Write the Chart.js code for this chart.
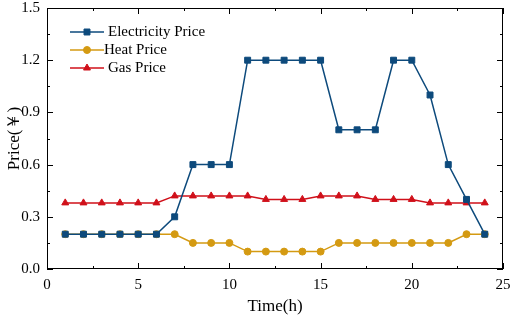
<!DOCTYPE html>
<html>
<head>
<meta charset="utf-8">
<script src="https://cdn.jsdelivr.net/npm/chart.js@4/dist/chart.umd.min.js"></script>
<style>
  html, body { margin: 0; padding: 0; background: #fff; }
  #wrap { width: 512px; height: 321px; }
</style>
</head>
<body>
<div id="wrap"><canvas id="priceChart"></canvas></div>
<script>
const hours = [1, 2, 3, 4, 5, 6, 7, 8, 9, 10, 11, 12, 13, 14, 15, 16, 17, 18, 19, 20, 21, 22, 23, 24];
const electricityPrice = [0.2, 0.2, 0.2, 0.2, 0.2, 0.2, 0.3, 0.6, 0.6, 0.6, 1.2, 1.2, 1.2, 1.2, 1.2, 0.8, 0.8, 0.8, 1.2, 1.2, 1.0, 0.6, 0.4, 0.2];
const heatPrice = [0.2, 0.2, 0.2, 0.2, 0.2, 0.2, 0.2, 0.15, 0.15, 0.15, 0.1, 0.1, 0.1, 0.1, 0.1, 0.15, 0.15, 0.15, 0.15, 0.15, 0.15, 0.15, 0.2, 0.2];
const gasPrice = [0.38, 0.38, 0.38, 0.38, 0.38, 0.38, 0.42, 0.42, 0.42, 0.42, 0.42, 0.40, 0.40, 0.40, 0.42, 0.42, 0.42, 0.40, 0.40, 0.40, 0.38, 0.38, 0.38, 0.38];
const xTicks = [0, 5, 10, 15, 20, 25];
const yTicks = [0.0, 0.3, 0.6, 0.9, 1.2, 1.5];

const FONT = '"Liberation Serif", "Times New Roman", serif';

function toPoints(values) {
    return values.map((v, i) => ({ x: hours[i], y: v }));
}

// inward major/minor ticks on all four sides, plus the frame
const frameTicks = {
    id: 'frameTicks',
    afterDraw(chart) {
        const { ctx, chartArea: a, scales } = chart;
        const xs = scales.x, ys = scales.y;
        ctx.save();
        ctx.strokeStyle = '#000';
        ctx.lineWidth = 1;
        ctx.strokeRect(a.left + 0.5, a.top + 0.5, a.right - a.left - 1, a.bottom - a.top - 1);
        ctx.beginPath();
        for (let v = 0; v <= 25; v += 2.5) {
            const px = Math.round(xs.getPixelForValue(v)) + 0.5;
            const len = (v % 5 === 0) ? 6 : 3;
            ctx.moveTo(px, a.bottom); ctx.lineTo(px, a.bottom - len);
            ctx.moveTo(px, a.top); ctx.lineTo(px, a.top + len);
        }
        for (let v = 0; v <= 1.5001; v += 0.15) {
            const py = Math.round(ys.getPixelForValue(v)) + 0.5;
            const major = Math.abs(Math.round(v / 0.3) * 0.3 - v) < 1e-6;
            const len = major ? 6 : 3;
            ctx.moveTo(a.left, py); ctx.lineTo(a.left + len, py);
            ctx.moveTo(a.right, py); ctx.lineTo(a.right - len, py);
        }
        ctx.stroke();
        ctx.restore();
    }
};

// legend with line + marker, inside the plot
const lineLegend = {
    id: 'lineLegend',
    afterDatasetsDraw(chart) {
        const { ctx } = chart;
        ctx.save();
        ctx.font = '15px ' + FONT;
        ctx.textBaseline = 'middle';
        chart.data.datasets.forEach((ds, i) => {
            const y = 32 + i * 18;
            ctx.strokeStyle = ds.borderColor;
            ctx.fillStyle = ds.borderColor;
            ctx.lineWidth = 1.5;
            ctx.beginPath();
            ctx.moveTo(70, y); ctx.lineTo(104, y);
            ctx.stroke();
            ctx.lineWidth = 1;
            Chart.helpers.drawPoint(ctx, {
                pointStyle: ds.pointStyle,
                radius: ds.pointRadius,
                borderWidth: 1
            }, 87, y);
            ctx.fillStyle = '#000';
            ctx.fillText(ds.label, i === 1 ? 104 : 108, y);
        });
        ctx.restore();
    }
};

function series(label, values, color, style, radius) {
    return {
        label: label,
        data: toPoints(values),
        borderColor: color,
        backgroundColor: color,
        pointBorderColor: color,
        pointBackgroundColor: color,
        pointBorderWidth: 1,
        pointStyle: style,
        pointRadius: radius,
        borderWidth: 1.5
    };
}

new Chart(document.getElementById('priceChart'), {
    type: 'line',
    data: {
        datasets: [
            series('Electricity Price', electricityPrice, '#0d4a7c', 'rect', 4.2),
            series('Heat Price', heatPrice, '#d49a12', 'circle', 3.5),
            series('Gas Price', gasPrice, '#d0101a', 'triangle', 4)
        ]
    },
    options: {
        responsive: true,
        maintainAspectRatio: false,
        animation: false,
        devicePixelRatio: 1,
        layout: { padding: 0 },
        plugins: {
            legend: { display: false },
            tooltip: { enabled: false }
        },
        scales: {
            x: {
                type: 'linear',
                min: 0,
                max: 25,
                afterBuildTicks(scale) { scale.ticks = xTicks.map(v => ({ value: v })); },
                afterFit(scale) {
                    scale.height = 52;
                    scale.paddingLeft = 0;
                    scale.paddingRight = 9;
                },
                grid: { display: false, drawTicks: false },
                border: { display: false },
                ticks: { color: '#000', font: { family: FONT, size: 15 }, padding: 7 },
                title: { display: true, text: 'Time(h)', color: '#000', font: { family: FONT, size: 17 }, padding: { top: 3 } }
            },
            y: {
                type: 'linear',
                min: 0,
                max: 1.5,
                afterBuildTicks(scale) { scale.ticks = yTicks.map(v => ({ value: v })); },
                afterFit(scale) {
                    scale.width = 47;
                    scale.paddingTop = 8;
                    scale.paddingBottom = 0;
                },
                grid: { display: false, drawTicks: false },
                border: { display: false },
                ticks: {
                    color: '#000',
                    font: { family: FONT, size: 15 },
                    padding: 7,
                    callback: v => v.toFixed(1)
                },
                title: { display: true, text: 'Price(￥)', color: '#000', font: { family: FONT, size: 17 }, padding: { bottom: 0 } }
            }
        }
    },
    plugins: [frameTicks, lineLegend]
});
</script>
</body>
</html>
